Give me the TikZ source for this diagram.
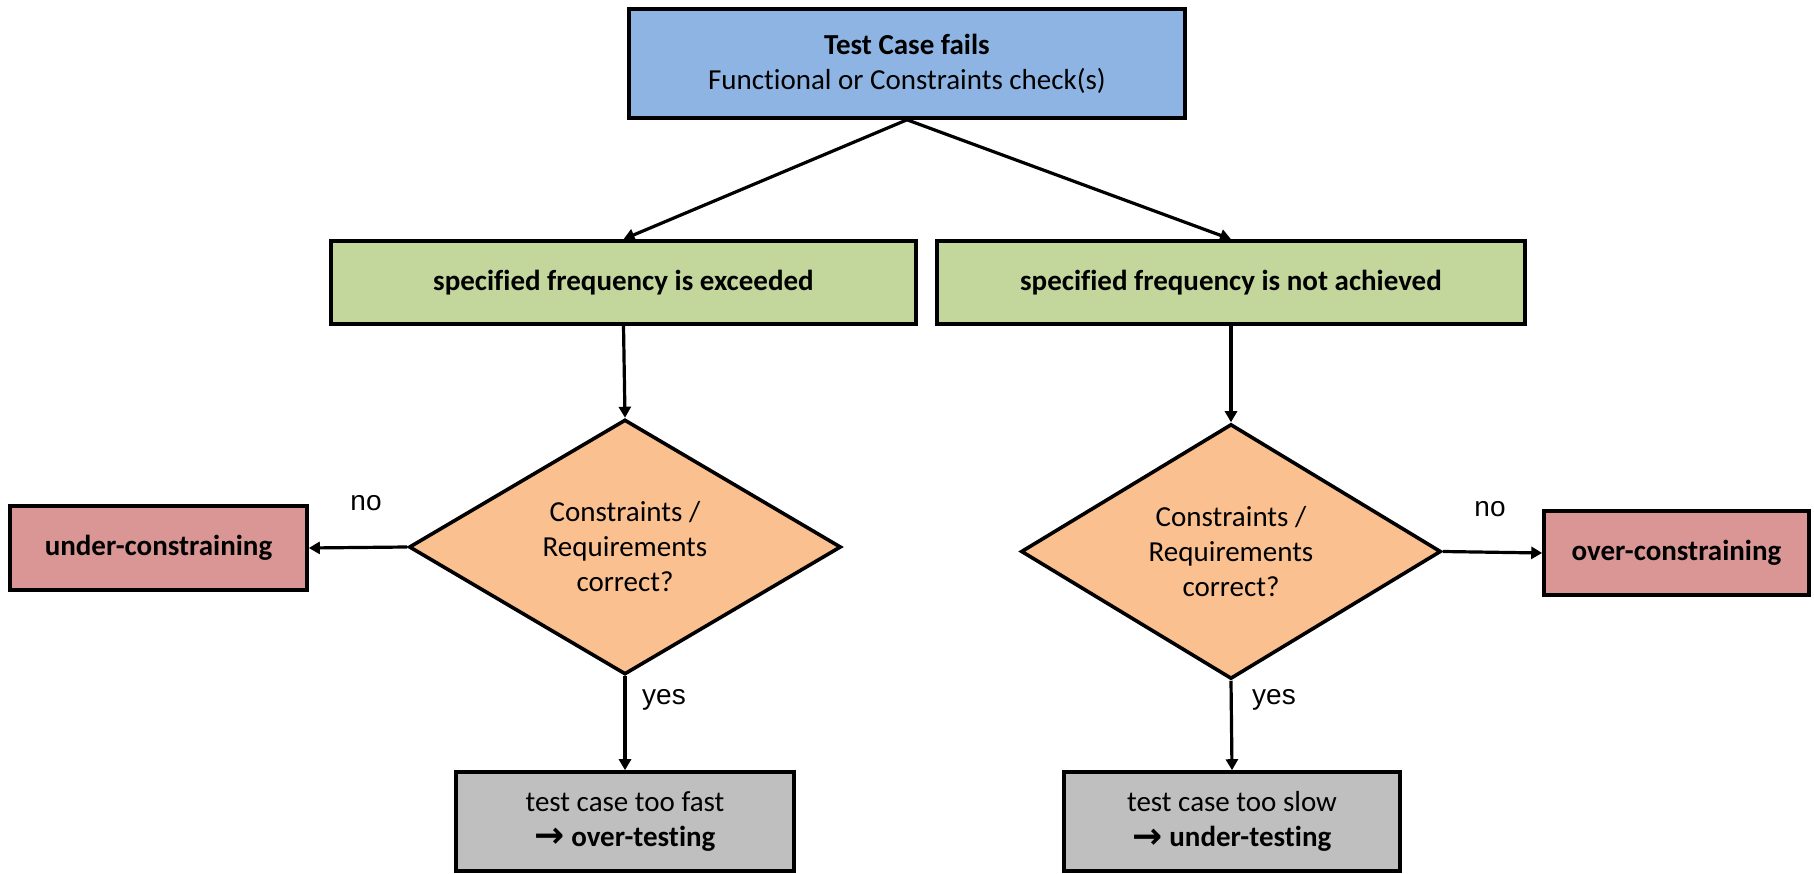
\documentclass[tikz,border=0pt]{standalone}
\usepackage{fontspec}
\setmainfont{Carlito}[Ligatures={NoCommon}]
\newfontfamily\labelfont{Liberation Sans}
\newfontfamily\symfont{DejaVu Sans}
\usetikzlibrary{shapes.geometric,arrows.meta}

\definecolor{boxblue}{RGB}{141,180,226}
\definecolor{boxgreen}{RGB}{195,214,155}
\definecolor{boxorange}{RGB}{250,192,144}
\definecolor{boxred}{RGB}{217,150,148}
\definecolor{boxgray}{RGB}{191,191,191}

\tikzset{
  base/.style={draw=black, line width=3.6pt, inner sep=0pt, align=center,
    font=\fontsize{29}{35}\selectfont},
  rectbox/.style={base, rectangle},
  decision/.style={base, diamond, fill=boxorange},
  flow/.style={line width=3.2pt, -{Triangle[length=11pt,width=12pt]}},
  edgelabel/.style={font=\labelfont\fontsize{28}{32}\selectfont, inner sep=0pt}
}

% bold right arrow in front of the testing verdicts
\newcommand{\rarrow}{\raisebox{-1.5pt}{\symfont\bfseries\fontsize{36}{35}\selectfont →}}

\begin{document}
\begin{tikzpicture}[x=1pt,y=-1pt]
  \useasboundingbox (0,0) rectangle (1814,874);

  % start
  \node[rectbox, fill=boxblue, minimum width=556pt, minimum height=109pt]
    (top) at (907,63.5) {\textbf{Test Case fails}\\Functional or Constraints check(s)};

  % frequency outcomes
  \node[rectbox, fill=boxgreen, minimum width=585pt, minimum height=83pt]
    (gl) at (623.5,282.5) {\textbf{specified frequency is exceeded}};
  \node[rectbox, fill=boxgreen, minimum width=588pt, minimum height=83pt]
    (gr) at (1231,282.5) {\textbf{specified frequency is not achieved}};

  % decisions
  \node[decision, minimum width=432pt, minimum height=244pt]
    (dl) at (625,547) {Constraints /\\Requirements\\correct?};
  \node[decision, minimum width=420pt, minimum height=235pt]
    (dr) at (1231,551.5) {Constraints /\\Requirements\\correct?};

  % constraint verdicts
  \node[rectbox, fill=boxred, minimum width=297pt, minimum height=84pt]
    (under) at (158.5,548) {\textbf{under-constraining}};
  \node[rectbox, fill=boxred, minimum width=265pt, minimum height=84pt]
    (over) at (1676.5,553) {\textbf{over-constraining}};

  % testing verdicts
  \node[rectbox, fill=boxgray, minimum width=338pt, minimum height=99pt]
    (bl) at (625,821.5) {test case too fast\\\rarrow\ \textbf{over-testing}};
  \node[rectbox, fill=boxgray, minimum width=336pt, minimum height=99pt]
    (br) at (1232,821.5) {test case too slow\\\rarrow\ \textbf{under-testing}};

  % connectors
  \draw[flow] (top.south) -- (gl.north);
  \draw[flow] (top.south) -- (gr.north);
  \draw[flow] (gl.south) -- (dl.north);
  \draw[flow] (gr.south) -- (dr.north);
  \draw[flow] (dl.west) -- (under.east);
  \draw[flow] (dr.east) -- (over.west);
  \draw[flow] (dl.south) -- (bl.north);
  \draw[flow] (dr.south) -- (br.north);

  % branch labels
  \node[edgelabel] (nol) at (366,503) {no};
  \node[edgelabel] (nor) at (1490,509) {no};
  \node[edgelabel] (yesl) at (664,700) {yes};
  \node[edgelabel] (yesr) at (1274,700) {yes};
\end{tikzpicture}
\end{document}
